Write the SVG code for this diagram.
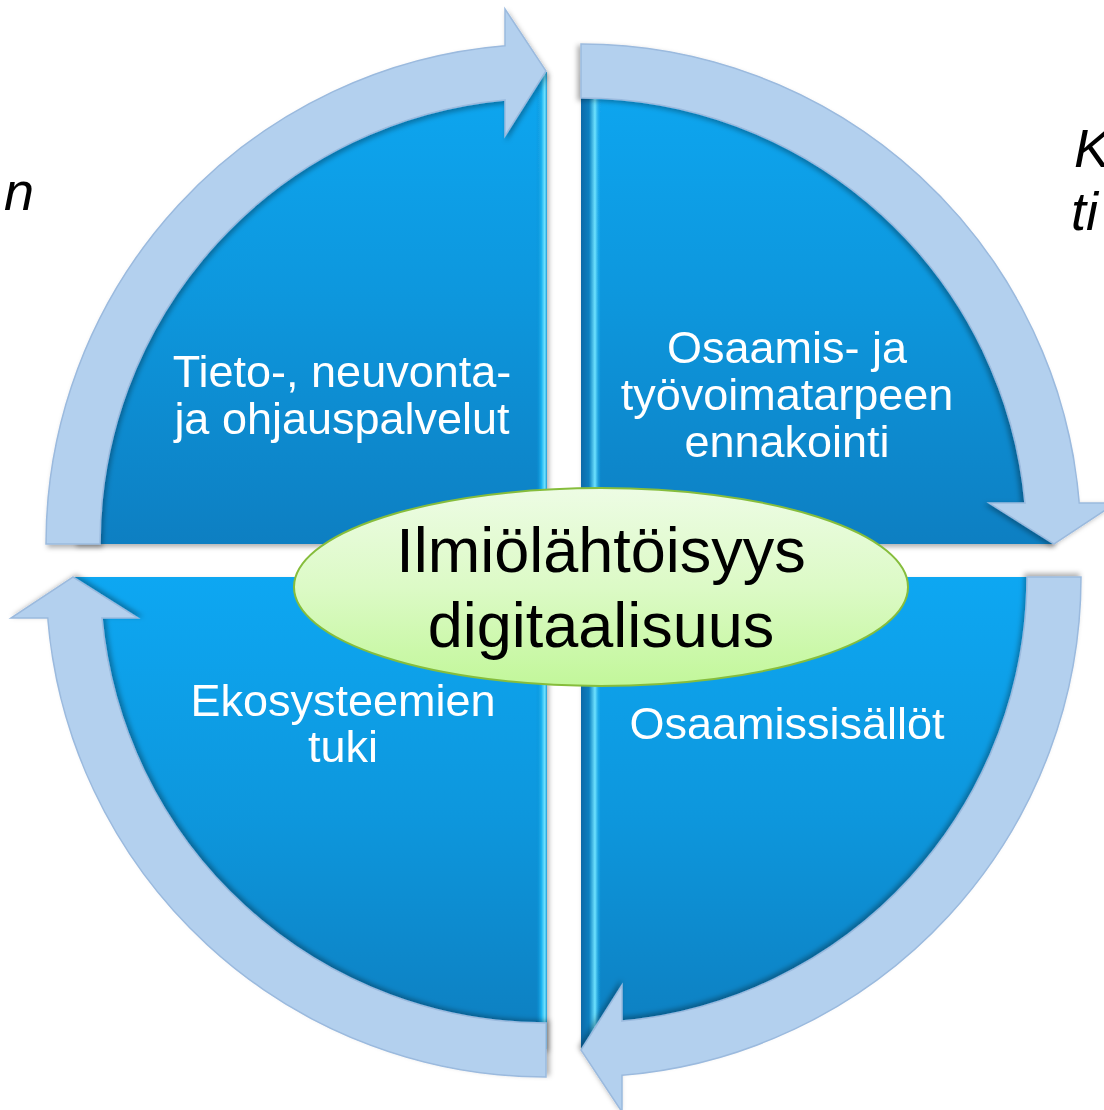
<svg xmlns="http://www.w3.org/2000/svg" xmlns:xlink="http://www.w3.org/1999/xlink" width="1104" height="1110" viewBox="0 0 1104 1110">
  <defs>
    <linearGradient id="gTop" x1="0" y1="72" x2="0" y2="544" gradientUnits="userSpaceOnUse">
      <stop offset="0" stop-color="#11a7f1"/>
      <stop offset="0.5" stop-color="#0d96dc"/>
      <stop offset="1" stop-color="#0a7fc2"/>
    </linearGradient>
    <linearGradient id="gBot" x1="0" y1="577" x2="0" y2="1049" gradientUnits="userSpaceOnUse">
      <stop offset="0" stop-color="#0ca7f2"/>
      <stop offset="0.5" stop-color="#0c97dd"/>
      <stop offset="1" stop-color="#0a7ebf"/>
    </linearGradient>
    <linearGradient id="gEdgeR" x1="0" y1="0" x2="1" y2="0">
      <stop offset="0" stop-color="#0a8ad0" stop-opacity="0"/>
      <stop offset="0.5" stop-color="#1fb4f0"/>
      <stop offset="0.8" stop-color="#6fe3ff"/>
      <stop offset="1" stop-color="#1a9ad8"/>
    </linearGradient>
    <linearGradient id="gEdgeL" x1="0" y1="0" x2="1" y2="0">
      <stop offset="0" stop-color="#0a6aa8"/>
      <stop offset="0.4" stop-color="#0b7fc0"/>
      <stop offset="0.7" stop-color="#6fe3ff"/>
      <stop offset="1" stop-color="#0fa0e6" stop-opacity="0"/>
    </linearGradient>
    <linearGradient id="gEll" x1="0" y1="0" x2="0" y2="1">
      <stop offset="0" stop-color="#edfce4"/>
      <stop offset="0.5" stop-color="#dcfac6"/>
      <stop offset="1" stop-color="#c2f79a"/>
    </linearGradient>
    <filter id="shadow" x="-10%" y="-10%" width="120%" height="120%">
      <feDropShadow dx="2" dy="3" stdDeviation="2.5" flood-color="#000" flood-opacity="0.3"/>
    </filter>
    <path id="arrow" d="M -500 0 A 500 500 0 0 1 -41 -498.3 L -41 -535 L 0 -473 L -41 -408 L -41 -444.1 A 446 446 0 0 0 -446 0 Z"/>
  </defs>
  <style>
    .quad { filter: url(#shadow); }
    .lbl { font-family: "Liberation Sans", Arial, sans-serif; font-size: 45px; fill: #ffffff; text-anchor: middle; }
    .ctr { font-family: "Liberation Sans", Arial, sans-serif; font-size: 63px; fill: #000000; text-anchor: middle; }
    .ital { font-family: "Liberation Sans", Arial, sans-serif; font-size: 54px; font-style: italic; fill: #000000; }
    .arr { fill: #b3d0ee; stroke: #9bbade; stroke-width: 1.5; filter: url(#shadow); }
  </style>
  <rect width="1104" height="1110" fill="#ffffff"/>

  <text class="ital" x="34" y="210" text-anchor="end">n</text>
  <text class="ital" x="1074" y="167">K</text>
  <text class="ital" x="1071" y="230">ti</text>

  <g id="q-tl" class="quad">
    <path d="M 546 544 L 74 544 A 472 472 0 0 1 546 72 Z" fill="url(#gTop)"/>
    <rect x="536" y="72" width="11" height="472" fill="url(#gEdgeR)"/>
    <text class="lbl" x="342" y="387">Tieto-, neuvonta-</text>
    <text class="lbl" x="342" y="434">ja ohjauspalvelut</text>
  </g>
  <g id="q-tr" class="quad">
    <path d="M 581 544 L 581 72 A 472 472 0 0 1 1053 544 Z" fill="url(#gTop)"/>
    <rect x="581" y="72" width="20" height="472" fill="url(#gEdgeL)"/>
    <text class="lbl" x="787" y="363">Osaamis- ja</text>
    <text class="lbl" x="787" y="410">työvoimatarpeen</text>
    <text class="lbl" x="787" y="457">ennakointi</text>
  </g>
  <g id="q-bl" class="quad">
    <path d="M 546 577 L 546 1049 A 472 472 0 0 1 74 577 Z" fill="url(#gBot)"/>
    <rect x="536" y="577" width="11" height="472" fill="url(#gEdgeR)"/>
    <text class="lbl" x="343" y="716">Ekosysteemien</text>
    <text class="lbl" x="343" y="762">tuki</text>
  </g>
  <g id="q-br" class="quad">
    <path d="M 581 577 L 1053 577 A 472 472 0 0 1 581 1049 Z" fill="url(#gBot)"/>
    <rect x="581" y="577" width="20" height="472" fill="url(#gEdgeL)"/>
    <text class="lbl" x="787" y="739">Osaamissisällöt</text>
  </g>

  <g id="connectors">
    <use xlink:href="#arrow" href="#arrow" class="arr" transform="translate(546,544)"/>
    <use xlink:href="#arrow" href="#arrow" class="arr" transform="translate(581,544) rotate(90)"/>
    <use xlink:href="#arrow" href="#arrow" class="arr" transform="translate(581,577) rotate(180)"/>
    <use xlink:href="#arrow" href="#arrow" class="arr" transform="translate(546,577) rotate(270)"/>
  </g>

  <g id="center">
    <ellipse cx="601" cy="587" rx="307" ry="99" fill="url(#gEll)" stroke="#86bd3c" stroke-width="2"/>
    <text class="ctr" x="601" y="572">Ilmiölähtöisyys</text>
    <text class="ctr" x="601" y="647">digitaalisuus</text>
  </g>
</svg>
